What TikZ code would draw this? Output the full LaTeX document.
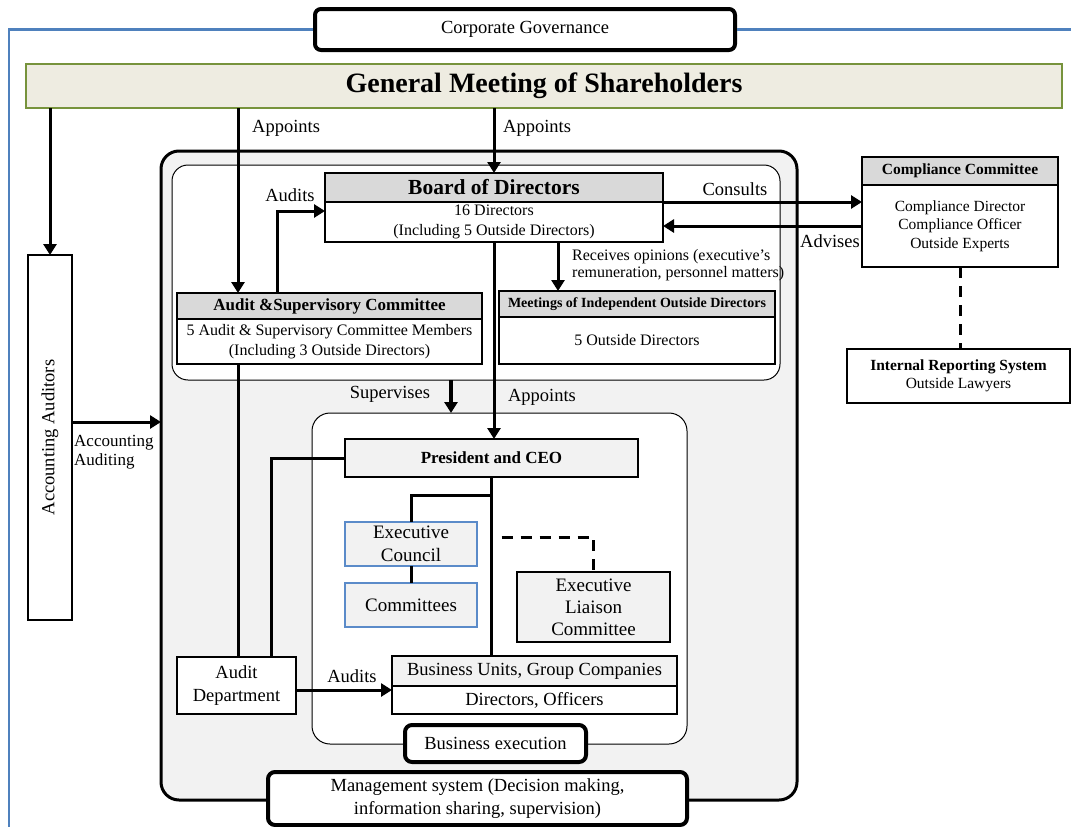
\documentclass[tikz,border=0pt]{standalone}
\usepackage{fontspec}
\setmainfont{Liberation Serif}
\usepackage{graphicx}
\usepackage{tikz}
\usetikzlibrary{arrows.meta,positioning,calc}
\definecolor{frameblue}{HTML}{4F81BD}
\definecolor{gmsfill}{HTML}{EEECE1}
\definecolor{gmsline}{HTML}{77933C}
\definecolor{headgray}{HTML}{D9D9D9}
\definecolor{paleg}{HTML}{F2F2F2}
\definecolor{ecblue}{HTML}{5B8BC9}
\newcommand{\lblfont}{\fontsize{18.5}{23}\selectfont}
\newcommand{\smlfont}{\fontsize{16}{19.5}\selectfont}
\tikzstyle{box}=[draw,line width=1.2pt,inner sep=0pt,outer sep=0pt,align=center,fill=white]
\tikzstyle{head}=[box,fill=headgray]
\tikzstyle{tab}=[draw,line width=4pt,rounded corners=7pt,fill=white,inner sep=0pt,outer sep=0pt,align=center,font=\lblfont]
\tikzstyle{area}=[draw,inner sep=0pt,outer sep=0pt,rounded corners=18pt]
\tikzstyle{arr}=[->,line width=3pt]
\tikzstyle{ln}=[line width=3pt]
\tikzstyle{dashln}=[line width=3pt,dash pattern=on 11pt off 8pt]
\tikzstyle{lbl}=[inner sep=0pt,font=\lblfont,align=left]

\begin{document}
\begin{tikzpicture}[x=1pt,y=-1pt,>={Triangle[length=11pt,width=13pt]}]
\useasboundingbox (0,0) rectangle (1071,827);

% outer frame
\node[tab,minimum width=420pt,minimum height=41pt,rounded corners=6pt] (corp) at (525,29.5) {Corporate Governance};
\draw[frameblue,line width=2.5pt] ([xshift=-2pt]corp.west) -- (9,29.5) -- (9,835);
\draw[frameblue,line width=2.5pt] ([xshift=2pt]corp.east) -- (1080,29.5);

% containers
\node[area,line width=3pt,fill=paleg,minimum width=636pt,minimum height=649pt] (mgmt) at (479,475.5) {};
\node[area,line width=1pt,fill=white,rounded corners=16pt,minimum width=608pt,minimum height=215pt] (gov) at (476,272.5) {};
\node[area,line width=1pt,fill=white,minimum width=375pt,minimum height=331pt] (exe) at (499.5,578.5) {};

\node[draw=gmsline,fill=gmsfill,line width=2.5pt,inner sep=0pt,outer sep=0pt,minimum width=1036pt,minimum height=44pt,font=\fontsize{28}{32}\selectfont\bfseries] (gms) at (544,86) {General Meeting of Shareholders};

% governance side
\node[head,minimum width=338pt,minimum height=29pt,font=\fontsize{21.5}{24}\selectfont\bfseries] (bodh) at (494,187.5) {Board of Directors};
\node[box,below=0pt of bodh,minimum width=338pt,minimum height=40pt,font=\smlfont] (bodb) {16 Directors\\(Including 5 Outside Directors)};

\node[head,minimum width=305pt,minimum height=26pt,font=\fontsize{17}{20}\selectfont\bfseries] (asch) at (329.5,306) {Audit \&Supervisory Committee};
\node[box,below=0pt of asch,minimum width=305pt,minimum height=45pt,font=\smlfont] (ascb) {5 Audit \& Supervisory Committee Members\\(Including 3 Outside Directors)};

\node[head,minimum width=276pt,minimum height=26pt,font=\fontsize{14}{17}\selectfont\bfseries] (mtgh) at (637,304) {Meetings of Independent Outside Directors};
\node[box,below=0pt of mtgh,minimum width=276pt,minimum height=47pt,font=\smlfont] (mtgb) {5 Outside Directors};

\node[head,minimum width=196pt,minimum height=28pt,font=\fontsize{15.5}{18}\selectfont\bfseries] (comph) at (960,171) {Compliance Committee};
\node[box,below=0pt of comph,minimum width=196pt,minimum height=82pt,font=\fontsize{15.5}{18.5}\selectfont] (compb) {Compliance Director\\Compliance Officer\\Outside Experts};

\node[box,minimum width=223pt,minimum height=54pt,font=\fontsize{15.5}{18}\selectfont] (irs) at (958.5,376) {\textbf{Internal Reporting System}\\Outside Lawyers};

\node[box,minimum width=44pt,minimum height=365pt,font=\lblfont] (acc) at (50,437.5) {\rotatebox{90}{Accounting Auditors}};

% execution side
\node[box,fill=paleg,minimum width=293pt,minimum height=38pt,font=\fontsize{17}{20}\selectfont\bfseries] (pres) at (491.5,458) {President and CEO};
\node[box,fill=paleg,draw=ecblue,minimum width=132pt,minimum height=44pt,font=\fontsize{19}{23}\selectfont] (exc) at (411,544) {Executive\\Council};
\node[box,fill=paleg,draw=ecblue,minimum width=132pt,minimum height=44pt,font=\fontsize{19}{23}\selectfont] (cmt) at (411,605) {Committees};
\node[box,fill=paleg,minimum width=153pt,minimum height=70pt,font=\fontsize{19}{22}\selectfont] (elc) at (593.5,607) {Executive\\Liaison\\Committee};
\node[box,fill=paleg,minimum width=285pt,minimum height=30pt,font=\lblfont] (bizh) at (534.5,671) {Business Units, Group Companies};
\node[box,below=0pt of bizh,minimum width=285pt,minimum height=28pt,font=\lblfont] (bizb) {Directors, Officers};
\node[box,minimum width=119pt,minimum height=57pt,font=\lblfont] (adep) at (236.5,685.5) {Audit\\Department};

% connectors
\coordinate (ascx) at ($(asch.north west)+(61,0)$);
\coordinate (audx) at ($(asch.north west)+(100,0)$);
\coordinate (rcvx) at ($(bodb.south)+(64,0)$);
\coordinate (advy) at ([yshift=-4pt]bodb.east);
\coordinate (accy) at ([yshift=15.5pt]acc.east);
\coordinate (supx) at ($(gov.south)+(-25,0)$);
\coordinate (audy) at ([yshift=-4.5pt]adep.east);
\draw[arr] (gms.south -| acc.north) -- (acc.north);
\draw[arr] (gms.south -| ascx) -- (ascx);
\draw[arr] (gms.south -| bodh.north) -- (bodh.north);
\draw[arr] (audx) |- ([yshift=11pt]bodb.west);
\draw[arr] (rcvx) -- (rcvx |- mtgh.north);
\draw[arr] (bodb.north east) -- (bodb.north east -| compb.west);
\draw[arr] (compb.west |- advy) -- (advy);
\draw[dashln] (compb.south) -- (compb.south |- irs.north);
\draw[arr] (accy) -- (accy -| mgmt.west);
\draw[arr,line width=4.5pt] (supx) -- (supx |- exe.north);
\draw[arr] (bodb.south) -- (bodb.south |- pres.north);
\draw[ln] (pres.west) -| ($(adep.north west)+(94,0)$);
\draw[ln] (ascb.south -| ascx) -- (adep.north -| ascx);
\draw[ln] (pres.south) -- (pres.south |- bizh.north);
\draw[ln] ($(pres.south)+(0,18)$) -| (exc.north);
\draw[ln] (exc.south) -- (cmt.north);
\draw[dashln] ($(pres.south)+(10,60)$) -| (elc.north);
\draw[arr] (audy) -- (audy -| bizb.west);

% labels
\node[lbl,anchor=west] (apl1) at (252,128) {Appoints};
\node[lbl,anchor=west] (apl2) at (503,128) {Appoints};
\node[lbl] (audl1) at (290,195) {Audits};
\node[lbl,anchor=west,font=\fontsize{16}{17}\selectfont] (rcvl) at (572,265.5) {Receives opinions (executive’s\\remuneration, personnel matters)};
\node[lbl] (conl) at (735,189) {Consults};
\node[lbl,anchor=east] (advl) at (860,241) {Advises};
\node[lbl,anchor=west,font=\fontsize{17}{19}\selectfont] (accl) at (74,452.5) {Accounting\\Auditing};
\node[lbl] (supl) at (390,394) {Supervises};
\node[lbl] (apl3) at (542,397) {Appoints};
\node[lbl] (audl2) at (352,676) {Audits};

% tabs
\node[tab,minimum width=181pt,minimum height=37pt] (bex) at (495.5,743.5) {Business execution};
\node[tab,minimum width=419pt,minimum height=53pt] (mtab) at (477.5,798.5) {Management system (Decision making,\\information sharing, supervision)};
\end{tikzpicture}
\end{document}
